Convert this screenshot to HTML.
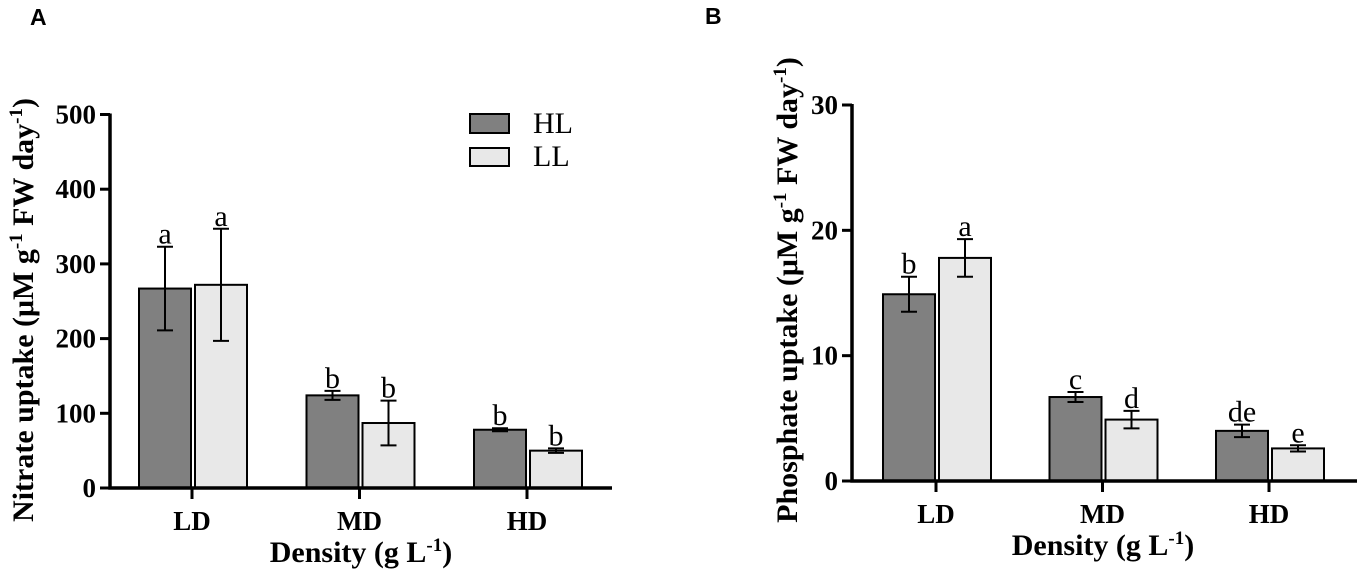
<!DOCTYPE html>
<html><head><meta charset="utf-8"><style>
body{margin:0;background:#fff;}
svg{display:block;font-family:"Liberation Serif",serif;}
.tk{font-weight:bold;font-size:27px;}
.tt{font-weight:bold;font-size:30px;}
.lt{font-size:30px;}
</style></head><body>
<svg id="s" width="1359" height="573">
<text x="30" y="25" font-family="Liberation Sans" font-weight="bold" font-size="23">A</text>
<text x="705" y="24" font-family="Liberation Sans" font-weight="bold" font-size="23">B</text>
<g>
<rect x="470" y="114" width="39" height="19" fill="#808080" stroke="#000" stroke-width="2"/>
<text x="533" y="133" class="lt">HL</text>
<rect x="470" y="148" width="39" height="18" fill="#e8e8e8" stroke="#000" stroke-width="2"/>
<text x="533" y="166" class="lt">LL</text>
</g>
</svg>
<script>
const categories=["LD","MD","HD"];
const nitrateHL=[267,124,78];
const nitrateHLerr=[56,6,2];
const nitrateLL=[272,87,50];
const nitrateLLerr=[75,30,3];
const nitrateHLletters=["a","b","b"];
const nitrateLLletters=["a","b","b"];
const nitrateTicks=[0,100,200,300,400,500];
const phosHL=[14.9,6.7,4.0];
const phosHLerr=[1.4,0.4,0.5];
const phosLL=[17.8,4.9,2.6];
const phosLLerr=[1.5,0.7,0.25];
const phosHLletters=["b","c","de"];
const phosLLletters=["a","d","e"];
const phosTicks=[0,10,20,30];

const NS="http://www.w3.org/2000/svg";
const svg=document.getElementById('s');
function mk(t,a,p){const e=document.createElementNS(NS,t);for(const k in a)e.setAttribute(k,a[k]);(p||svg).appendChild(e);return e;}

function panel(o){
  const g=mk('g',{});
  
  
  const y=v=>o.y0-(v/o.max)*(o.y0-o.yTop);
  const cx=i=>o.c0+i*o.step;
  categories.forEach((c,i)=>{
    [[o.hl,o.hlE,o.hlL,'#808080',-1],[o.ll,o.llE,o.llL,'#e8e8e8',1]].forEach((s,k)=>{
      const v=s[0][i],e=s[1][i];
      const x=s[4]<0?cx(i)-53:cx(i)+3;
      const r=mk('rect',{x:x,y:y(v),width:52,height:o.y0-y(v),fill:s[3],stroke:'#000','stroke-width':2},g);
      
      
      const m=x+26;
      const eb=mk('path',{d:`M${m},${y(v-e)}V${y(v+e)}M${m-8},${y(v-e)}H${m+8}M${m-8},${y(v+e)}H${m+8}`,stroke:'#000','stroke-width':2,fill:'none'},g);
      
      
      const t=mk('text',{x:m,y:y(v+e)-3,'text-anchor':'middle','font-size':30},g);
      t.textContent=s[2][i];
      
      
    });
    const tk=mk('line',{x1:cx(i),x2:cx(i),y1:o.y0,y2:o.y0+11,stroke:'#000','stroke-width':3},g);
    
    
    const tl=mk('text',{x:cx(i),y:o.y0+42,'text-anchor':'middle',class:'tk'},g);
    tl.textContent=c;
    
    
  });
  const ax=mk('path',{d:`M${o.ax},${o.yTop-1}V${o.y0}H${o.xEnd}`,stroke:'#000','stroke-width':3.5,fill:'none'},g);
  
  
  o.ticks.forEach(t=>{
    const l=mk('line',{x1:o.ax-10,x2:o.ax,y1:y(t),y2:y(t),stroke:'#000','stroke-width':3},g);
    
    
    const tx=mk('text',{x:o.ax-14,y:y(t)+9,'text-anchor':'end',class:'tk'},g);
    tx.textContent=t;
    
    
  });
  const xt=mk('text',{x:o.xtx,y:o.y0+74,'text-anchor':'middle',class:'tt'},g);
  xt.innerHTML='Density (g L<tspan dy="-11" font-size="19">-1</tspan><tspan dy="11">)</tspan>';
  
  
  const yt=mk('text',{transform:`translate(${o.ytx},${o.yty}) rotate(-90)`,'text-anchor':'middle',class:'tt'},g);
  yt.innerHTML=o.title+' uptake (μM g<tspan dy="-11" font-size="19">-1</tspan><tspan dy="11"> FW day</tspan><tspan dy="-11" font-size="19">-1</tspan><tspan dy="11">)</tspan>';
  
  
}
panel({name:'nitrate-chart',hl:nitrateHL,hlE:nitrateHLerr,ll:nitrateLL,llE:nitrateLLerr,hlL:nitrateHLletters,llL:nitrateLLletters,ticks:nitrateTicks,max:500,y0:488,yTop:114.5,ax:110,xEnd:612,c0:192,step:167.5,xtx:361,ytx:33,yty:310,title:'Nitrate'});
panel({name:'phosphate-chart',hl:phosHL,hlE:phosHLerr,ll:phosLL,llE:phosLLerr,hlL:phosHLletters,llL:phosLLletters,ticks:phosTicks,max:30,y0:481,yTop:105,ax:852,xEnd:1357,c0:936,step:166.5,xtx:1103,ytx:797,yty:290,title:'Phosphate'});
</script>
</body></html>
